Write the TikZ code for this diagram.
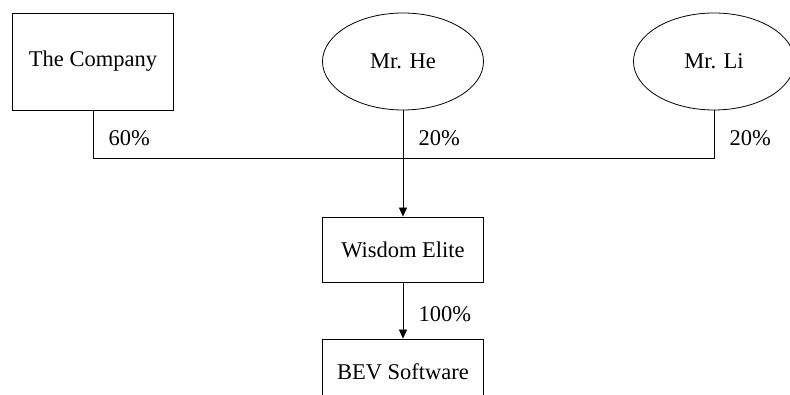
\documentclass[tikz,border=0pt]{standalone}
\usepackage{fontspec}
\setmainfont{Liberation Serif}
\usetikzlibrary{positioning, calc, arrows.meta, shapes.geometric}

\begin{document}
\begin{tikzpicture}[x=1pt, y=-1pt, >={Triangle[length=9pt, width=8pt]},
    every node/.style={font=\fontsize{22.5}{27}\selectfont},
    owner/.style={draw, line width=0.8pt, inner sep=0pt, minimum width=161pt, minimum height=97pt},
    holder/.style={owner, ellipse},
    sub/.style={draw, line width=0.8pt, inner sep=0pt, minimum width=161pt, minimum height=65pt},
    link/.style={line width=0.8pt},
    share/.style={right, xshift=12pt, yshift=-4pt}]
    % Frame of the picture
    \useasboundingbox (0,0) rectangle (790,395);
    \clip (0,0) rectangle (790,395);

    % Shareholders
    \node[owner]  (company) at (93,61.5)  {The Company};
    \node[holder] (mrhe)    at (403,61.5) {Mr. He};
    \node[holder] (mrli)    at (714,61.5) {Mr. Li};

    % Subsidiaries
    \node[sub] (wisdom) at (403,249.5) {Wisdom Elite};
    \node[sub] (bev)    at (403,371.5) {BEV Software};

    % Junction on the bus line
    \coordinate (bus) at (403,158);

    % Ownership lines
    \draw[link] (company.south) |- (bus) node[pos=0.25, share] {60\%};
    \draw[link] (mrli.south) |- (bus) node[pos=0.25, share] {20\%};
    \draw[link] (mrhe.south) -- (bus) node[midway, share] {20\%};
    \draw[link, ->] (bus) -- (wisdom.north);
    \draw[link, ->] (wisdom.south) -- (bev.north) node[midway, share] {100\%};

\end{tikzpicture}
\end{document}
